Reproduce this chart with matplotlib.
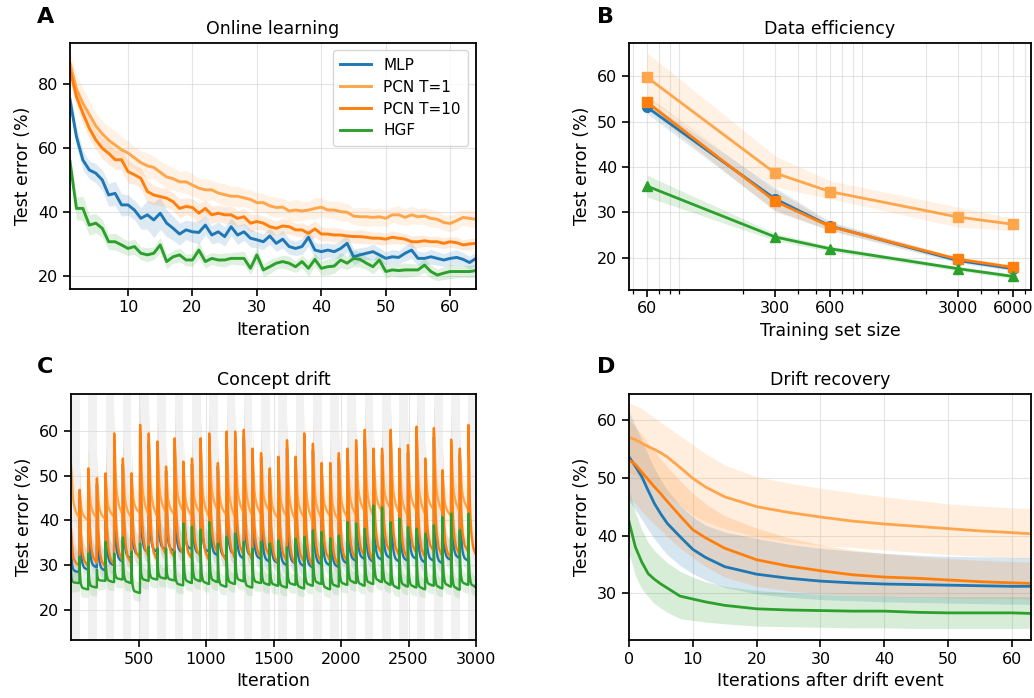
import numpy as np
import matplotlib
matplotlib.use("Agg")
import matplotlib.pyplot as plt
from matplotlib.ticker import FixedLocator, FixedFormatter, NullFormatter

# ---------------- data ----------------
SERIES = ["MLP", "PCN T=1", "PCN T=10", "HGF"]

# Panel A: online learning (iterations 1..64)
A_ITER = list(range(1, 65))
A_MLP = [75.1, 63.6, 56.3, 53.2, 52.2, 50.1, 45.4, 45.9,
         42.3, 42.3, 40.7, 38.1, 39.2, 37.6, 39.7, 36.6,
         35.0, 33.2, 34.5, 33.9, 33.7, 36.0, 32.9, 33.9,
         32.4, 35.5, 32.9, 33.9, 31.9, 31.4, 30.8, 32.6,
         30.3, 31.6, 29.3, 28.7, 29.3, 32.2, 28.2, 27.7,
         28.2, 27.7, 28.7, 30.3, 26.1, 26.7, 27.2, 27.7,
         26.7, 25.6, 26.1, 25.9, 27.2, 28.2, 25.6, 25.6,
         26.1, 25.6, 25.1, 25.6, 25.9, 25.3, 24.3, 25.6]
A_PCN1 = [86.5, 78.5, 74.0, 70.5, 67.0, 64.5, 62.5, 61.0,
          59.5, 58.5, 57.0, 55.5, 54.5, 54.0, 52.5, 51.0,
          50.5, 49.5, 49.5, 48.5, 47.5, 47.0, 47.0, 46.0,
          45.5, 45.0, 45.0, 44.5, 44.0, 43.0, 43.0, 42.0,
          41.5, 41.6, 40.4, 40.7, 40.4, 40.7, 41.2, 41.6,
          40.7, 40.7, 40.2, 40.0, 38.8, 38.6, 38.6, 38.4,
          38.6, 38.1, 39.2, 39.2, 38.4, 39.2, 38.6, 38.8,
          38.1, 37.8, 36.8, 36.5, 37.4, 38.4, 38.1, 37.8]
A_PCN10 = [84.5, 76.1, 70.9, 66.2, 62.6, 60.0, 58.4, 56.4,
           56.4, 52.7, 51.7, 50.6, 46.5, 45.4, 44.9, 44.4,
           43.3, 41.2, 41.8, 41.5, 39.7, 41.2, 39.2, 39.7,
           39.2, 39.2, 38.1, 38.6, 36.6, 37.1, 36.6, 35.5,
           35.0, 35.7, 35.5, 34.5, 34.5, 33.4, 34.8, 33.2,
           33.2, 32.9, 32.9, 32.6, 32.4, 32.4, 32.2, 31.9,
           31.9, 31.6, 32.2, 31.9, 31.6, 30.8, 30.8, 31.1,
           30.8, 30.8, 30.3, 30.8, 30.5, 29.8, 30.1, 30.3]
A_HGF = [55.8, 41.2, 41.2, 36.0, 36.6, 35.0, 30.8, 30.8,
         29.8, 28.7, 29.3, 27.2, 26.7, 27.2, 29.8, 24.6,
         26.1, 26.7, 25.1, 25.1, 28.2, 24.6, 25.6, 25.1,
         25.1, 25.6, 25.6, 25.6, 22.5, 26.7, 22.0, 23.0,
         24.1, 24.6, 24.1, 23.0, 24.6, 22.5, 25.3, 22.5,
         23.0, 23.2, 25.1, 24.1, 25.6, 25.3, 24.1, 23.0,
         25.1, 21.5, 22.0, 21.8, 22.0, 22.0, 22.0, 23.5,
         21.5, 20.4, 21.0, 21.5, 21.5, 21.5, 21.5, 21.8]
A_MLP_SD = [2.5, 3.0, 3.0, 2.8, 3.0, 3.2, 3.5, 3.8,
            3.5, 3.2, 3.0, 3.4, 4.5, 5.5, 5.0, 4.2,
            3.8, 3.4, 3.0, 3.2, 3.6, 3.0, 2.8, 3.2,
            3.0, 2.8, 3.0, 2.6, 2.8, 2.5, 2.4, 2.6,
            2.5, 2.8, 2.4, 2.2, 2.5, 2.8, 2.3, 2.5,
            2.2, 2.4, 2.6, 2.8, 2.5, 2.2, 2.0, 2.4,
            2.2, 2.0, 2.3, 2.1, 2.4, 2.6, 2.2, 2.0,
            2.3, 2.1, 2.0, 2.2, 2.4, 2.1, 2.0, 2.2]
A_PCN1_SD = [4.0, 4.5, 4.8, 4.5, 4.2, 4.0, 4.2, 4.5,
             4.0, 3.8, 3.5, 3.8, 4.0, 3.6, 3.4, 3.8,
             3.5, 3.2, 3.6, 3.4, 3.2, 3.5, 3.0, 3.2,
             3.4, 3.0, 3.2, 2.8, 3.0, 3.2, 2.8, 3.0,
             3.2, 2.8, 3.0, 3.4, 3.0, 2.8, 3.4, 3.0,
             2.6, 2.8, 3.0, 2.8, 2.6, 2.8, 3.0, 2.6,
             2.8, 2.6, 2.4, 2.8, 2.6, 2.8, 2.4, 2.6,
             2.8, 2.6, 2.4, 2.6, 2.8, 2.4, 2.6, 2.6]
A_PCN10_SD = [3.0, 3.2, 3.5, 3.2, 3.0, 3.2, 3.5, 3.0,
              3.2, 3.5, 3.0, 3.2, 3.5, 3.0, 2.8, 3.0,
              2.8, 3.0, 2.6, 2.8, 3.0, 2.6, 2.8, 2.5,
              2.6, 2.8, 2.4, 2.6, 2.8, 2.4, 2.2, 2.4,
              2.2, 2.4, 2.2, 2.0, 2.2, 2.4, 2.6, 2.2,
              2.0, 2.2, 2.0, 1.8, 2.0, 2.2, 2.0, 1.8,
              2.0, 1.8, 2.0, 1.8, 1.6, 1.8, 2.0, 1.8,
              1.6, 1.8, 1.7, 1.6, 1.8, 1.6, 1.7, 1.6]
A_HGF_SD = [3.0, 3.5, 3.8, 3.2, 3.0, 2.8, 2.5, 2.6,
            2.4, 2.2, 2.4, 2.0, 2.2, 2.0, 2.4, 2.2,
            2.0, 2.2, 1.8, 2.0, 2.6, 2.0, 1.8, 2.0,
            2.2, 1.8, 2.0, 2.2, 2.0, 2.4, 2.0, 2.2,
            1.8, 2.0, 2.2, 1.8, 2.0, 2.4, 2.0, 2.2,
            2.6, 2.2, 2.4, 2.0, 2.6, 2.4, 2.0, 2.2,
            2.4, 2.0, 1.8, 2.0, 2.2, 2.0, 1.8, 2.2,
            2.0, 1.8, 2.0, 2.2, 2.0, 1.8, 2.0, 2.0]

# Panel B: data efficiency
B_SIZES = [60, 300, 600, 3000, 6000]
B_MLP = [53.2, 33.0, 27.0, 19.4, 17.6]
B_MLP_LO = [51.8, 30.5, 26.0, 18.9, 17.1]
B_MLP_HI = [54.6, 35.5, 28.0, 19.9, 18.1]
B_PCN1 = [59.8, 38.7, 34.6, 29.0, 27.4]
B_PCN1_LO = [55.0, 35.6, 33.0, 26.8, 26.0]
B_PCN1_HI = [65.2, 42.5, 37.0, 31.2, 28.7]
B_PCN10 = [54.3, 32.5, 26.9, 19.7, 17.9]
B_PCN10_LO = [52.8, 30.2, 26.1, 19.2, 17.4]
B_PCN10_HI = [55.8, 35.0, 27.7, 20.2, 18.4]
B_HGF = [35.8, 24.6, 22.0, 17.6, 15.9]
B_HGF_LO = [33.4, 23.8, 21.4, 17.1, 15.4]
B_HGF_HI = [38.2, 25.4, 22.6, 18.1, 16.4]
B_TICKS = [60, 300, 600, 3000, 6000]

# Panel D: drift recovery (mean and band at sampled iterations after drift)
D_T = [0, 1, 2, 3, 4, 5, 6, 8, 10, 12, 15, 20, 25, 30, 35, 40, 45, 50, 55, 60, 63]
D_PCN1 = [57.0, 56.6, 56.0, 55.4, 54.9, 54.3, 53.6, 51.8, 49.9, 48.4, 46.7,
          45.0, 44.0, 43.2, 42.5, 42.0, 41.6, 41.2, 40.8, 40.5, 40.3]
D_PCN1_HI = [62.9, 62.5, 62.0, 61.2, 60.4, 59.6, 58.8, 57.3, 55.7, 54.2, 52.2,
             50.2, 49.1, 48.2, 47.4, 46.7, 46.1, 45.5, 45.1, 44.8, 44.7]
D_PCN1_LO = [51.0, 50.4, 49.6, 48.9, 48.2, 47.5, 46.8, 45.2, 43.5, 42.4, 41.2,
             39.8, 38.9, 38.3, 37.9, 37.5, 37.1, 36.7, 36.4, 36.1, 36.0]
D_PCN10 = [53.1, 52.3, 51.0, 49.7, 48.4, 47.2, 45.9, 43.4, 41.0, 39.6, 37.8,
           35.8, 34.7, 33.9, 33.2, 32.8, 32.6, 32.3, 32.0, 31.8, 31.7]
D_PCN10_HI = [60.0, 58.8, 57.5, 56.0, 54.6, 53.2, 51.9, 49.5, 47.3, 45.5, 43.4,
              41.3, 39.6, 38.4, 37.5, 36.9, 36.4, 36.0, 35.7, 35.5, 35.4]
D_PCN10_LO = [46.5, 45.5, 44.2, 43.0, 41.9, 40.9, 39.8, 37.8, 36.2, 34.6, 32.8,
              31.2, 30.4, 29.9, 29.6, 29.4, 29.3, 29.2, 29.1, 29.1, 29.0]
D_MLP = [53.6, 52.0, 50.2, 47.8, 45.5, 43.7, 42.1, 39.8, 37.6, 36.2, 34.6,
         33.3, 32.6, 32.1, 31.8, 31.6, 31.5, 31.4, 31.3, 31.2, 31.2]
D_MLP_HI = [61.5, 59.0, 56.5, 54.0, 51.6, 49.6, 47.9, 45.2, 43.2, 41.8, 40.6,
            39.5, 38.5, 37.8, 37.3, 36.9, 36.6, 36.4, 36.3, 36.2, 36.2]
D_MLP_LO = [46.0, 44.5, 42.8, 41.0, 39.4, 38.0, 36.7, 34.8, 33.4, 32.3, 31.0,
            29.9, 29.3, 28.9, 28.7, 28.5, 28.4, 28.3, 28.2, 28.1, 28.1]
D_HGF = [42.4, 38.0, 35.4, 33.4, 32.4, 31.6, 30.9, 29.5, 29.0, 28.5, 27.9,
         27.3, 27.1, 27.0, 26.9, 26.9, 26.7, 26.6, 26.6, 26.6, 26.5]
D_HGF_HI = [47.9, 44.0, 41.0, 38.8, 37.4, 36.3, 35.3, 33.8, 32.8, 32.0, 31.2,
            30.5, 30.1, 29.8, 29.6, 29.5, 29.4, 29.4, 29.4, 29.4, 29.4]
D_HGF_LO = [37.0, 33.0, 30.8, 29.4, 28.2, 27.4, 26.7, 25.6, 25.3, 25.0, 24.7,
            24.3, 24.2, 24.1, 24.0, 24.0, 23.9, 23.9, 23.9, 23.9, 23.9]

# Panel C: concept drift, per drift segment (every 64 iterations): peak right
# after the drift and level reached at the end of the segment
C_DRIFT_EVERY = 64
C_N_ITER = 3000
C_MLP_PEAK = [33.0, 45.0, 50.0, 48.0, 49.5, 57.5, 52.5, 49.0, 59.0, 57.5, 56.0, 51.0,
              56.5, 52.0, 52.5, 56.5, 57.5, 52.0, 58.0, 58.5, 58.5, 55.0, 54.0, 50.5,
              53.0, 56.0, 53.0, 57.5, 55.5, 51.5, 51.5, 54.0, 54.5, 56.0, 58.0, 54.5,
              54.5, 58.5, 54.5, 55.0, 59.0, 52.5, 58.5, 50.0, 56.5, 54.5, 59.5]
C_MLP_END = [28.5, 29.0, 29.5, 28.8, 30.0, 30.8, 31.5, 32.2, 32.8, 33.0, 33.5,
             33.2, 32.8, 33.6, 32.5, 33.0, 32.2, 31.8, 32.4, 31.5, 32.0, 31.4, 30.8,
             30.5, 30.0, 30.4, 29.8, 29.5, 30.2, 30.0, 29.6, 30.4, 31.0, 31.4, 30.8,
             31.2, 31.6, 30.8, 31.0, 31.4, 30.6, 31.0, 30.4, 31.2, 31.6, 31.0]
C_PCN1_PEAK = [52.0, 46.0, 50.5, 48.5, 49.5, 58.0, 52.5, 49.5, 60.0, 58.0, 56.5, 51.0,
               57.0, 52.0, 52.5, 57.0, 58.0, 51.5, 58.5, 58.5, 59.0, 55.0, 54.0, 50.5,
               53.0, 56.5, 53.0, 58.0, 56.0, 51.5, 51.5, 54.0, 55.0, 56.5, 59.0, 55.0,
               55.0, 59.0, 55.0, 55.5, 59.5, 52.5, 59.5, 50.0, 57.0, 55.0, 60.0]
C_PCN1_END = [40.5, 40.0, 40.5, 40.2, 40.8, 41.2, 40.6, 41.6, 41.2, 40.8, 41.8,
              41.2, 42.0, 41.0, 41.6, 40.8, 42.2, 41.2, 40.8, 41.6, 41.0, 41.4, 42.0,
              40.4, 40.8, 40.0, 40.6, 39.8, 40.4, 41.0, 40.0, 40.6, 41.2, 42.0, 41.0,
              42.0, 42.6, 41.6, 41.0, 42.2, 41.4, 42.4, 41.8, 41.0, 42.0, 42.4]
C_PCN10_PEAK = [38.0, 46.8, 51.6, 49.4, 50.5, 59.4, 53.8, 50.5, 61.3, 59.4, 57.6, 52.0,
                58.3, 53.1, 53.8, 58.3, 59.4, 52.8, 59.8, 59.8, 60.2, 56.0, 55.0, 51.6,
                54.2, 57.9, 54.2, 59.4, 57.1, 52.8, 52.8, 55.0, 56.0, 57.9, 60.2, 56.0,
                56.0, 60.2, 56.0, 56.8, 60.9, 53.8, 60.6, 51.2, 58.0, 56.0, 61.3]
C_PCN10_END = [30.0, 29.8, 30.5, 29.6, 30.2, 31.0, 30.4, 31.5, 32.0, 31.2, 32.5,
               31.8, 32.6, 31.5, 32.0, 31.2, 32.8, 31.0, 31.6, 32.4, 31.2, 31.8, 32.2,
               30.5, 31.0, 30.2, 30.8, 29.8, 30.6, 31.2, 30.0, 30.8, 31.4, 32.0, 31.0,
               32.6, 33.0, 32.2, 31.6, 32.8, 31.8, 33.2, 32.0, 31.6, 32.4, 33.0, 32.0]
C_HGF_PEAK = [29.0, 31.9, 32.6, 29.0, 35.2, 32.6, 36.2, 33.0, 34.8, 34.1, 33.7, 33.7,
              33.0, 39.3, 38.6, 37.9, 39.6, 34.8, 36.3, 37.0, 35.2, 33.7, 35.2, 34.8,
              35.5, 34.0, 35.9, 36.3, 37.8, 37.4, 36.0, 36.6, 39.6, 39.3, 38.1, 43.3,
              42.9, 39.6, 40.4, 38.5, 38.1, 37.0, 38.9, 40.7, 41.5, 37.8, 41.5]
C_HGF_END = [26.0, 24.6, 25.0, 26.5, 26.2, 26.8, 26.0, 23.8, 26.5, 26.8, 27.0, 26.6,
             25.5, 26.0, 26.4, 25.8, 26.2, 25.2, 25.8, 26.4, 25.0, 26.0, 25.6, 25.4,
             25.0, 25.6, 24.8, 25.4, 25.8, 24.6, 25.2, 25.6, 26.0, 25.4, 25.8, 26.2,
             25.6, 24.8, 25.2, 25.0, 24.6, 25.4, 24.8, 25.2, 24.5, 25.6, 25.0]

# ---------------- style ----------------
COLORS = {"MLP": "#1f77b4", "PCN T=1": "#ffa64d", "PCN T=10": "#ff7f0e", "HGF": "#2ca02c"}
plt.rcParams.update({
    "font.family": ["DejaVu Sans"],
    "font.size": 12,
    "axes.linewidth": 1.3,
    "axes.titlesize": 12.5,
    "axes.labelsize": 12.5,
    "xtick.labelsize": 11.5,
    "ytick.labelsize": 11.5,
    "xtick.major.size": 5,
    "ytick.major.size": 5,
    "xtick.major.width": 1.2,
    "ytick.major.width": 1.2,
    "xtick.minor.size": 3,
    "xtick.minor.width": 0.9,
    "grid.color": "#d9d9d9",
    "grid.linewidth": 0.8,
    "grid.alpha": 0.7,
})

W, H = 1034, 698
fig = plt.figure(figsize=(W / 100, H / 100), dpi=100)


def box(l, t, r, b):
    return [l / W, 1 - b / H, (r - l) / W, (b - t) / H]


axA = fig.add_axes(box(70, 42.5, 476, 288.5))
axB = fig.add_axes(box(629, 42.5, 1031, 289.5))
axC = fig.add_axes(box(71, 393.5, 476, 640))
axD = fig.add_axes(box(629, 393.5, 1031, 640))
for ax in (axA, axB, axC, axD):
    ax.grid(True)
    ax.set_axisbelow(True)

# ---------------- Panel A ----------------
a_means = {"MLP": A_MLP, "PCN T=1": A_PCN1, "PCN T=10": A_PCN10, "HGF": A_HGF}
a_sds = {"MLP": A_MLP_SD, "PCN T=1": A_PCN1_SD, "PCN T=10": A_PCN10_SD, "HGF": A_HGF_SD}
x = np.array(A_ITER)
for s in SERIES:
    m = np.array(a_means[s]); sd = np.array(a_sds[s])
    axA.fill_between(x, m - sd, m + sd, color=COLORS[s], alpha=0.15, lw=0)
    axA.plot(x, m, color=COLORS[s], lw=2.1, label=s)
axA.set_xlim(1, 64)
axA.set_ylim(16.2, 93)
axA.set_xticks([10, 20, 30, 40, 50, 60])
axA.set_yticks([20, 40, 60, 80])
axA.set_title("Online learning")
axA.set_xlabel("Iteration")
axA.set_ylabel("Test error (%)")
axA.legend(loc="upper right", fontsize=11, handlelength=2.0, borderpad=0.5,
           labelspacing=0.45, framealpha=0.8)

# ---------------- Panel B ----------------
b = {"MLP": (B_MLP, B_MLP_LO, B_MLP_HI, "o"),
     "PCN T=1": (B_PCN1, B_PCN1_LO, B_PCN1_HI, "s"),
     "PCN T=10": (B_PCN10, B_PCN10_LO, B_PCN10_HI, "s"),
     "HGF": (B_HGF, B_HGF_LO, B_HGF_HI, "^")}
for s in SERIES:
    m, lo, hi, mk = b[s]
    axB.fill_between(B_SIZES, lo, hi, color=COLORS[s], alpha=0.15, lw=0)
    axB.plot(B_SIZES, m, color=COLORS[s], lw=2.0, marker=mk, ms=7)
axB.set_xscale("log")
axB.set_xlim(47.7, 7550)
axB.set_ylim(13.0, 67.5)
axB.xaxis.set_major_locator(FixedLocator(B_TICKS))
axB.xaxis.set_major_formatter(FixedFormatter([str(v) for v in B_TICKS]))
axB.xaxis.set_minor_formatter(NullFormatter())
axB.grid(True, which="minor", axis="x")
axB.set_yticks([20, 30, 40, 50, 60])
axB.set_title("Data efficiency")
axB.set_xlabel("Training set size")
axB.set_ylabel("Test error (%)")

# ---------------- Panel C ----------------
d_curves = {"MLP": (D_MLP, D_MLP_LO, D_MLP_HI),
            "PCN T=1": (D_PCN1, D_PCN1_LO, D_PCN1_HI),
            "PCN T=10": (D_PCN10, D_PCN10_LO, D_PCN10_HI),
            "HGF": (D_HGF, D_HGF_LO, D_HGF_HI)}
c_segments = {"MLP": (C_MLP_PEAK, C_MLP_END),
              "PCN T=1": (C_PCN1_PEAK, C_PCN1_END),
              "PCN T=10": (C_PCN10_PEAK, C_PCN10_END),
              "HGF": (C_HGF_PEAK, C_HGF_END)}

n_seg = int(np.ceil(C_N_ITER / C_DRIFT_EVERY))
for j in range(0, n_seg, 2):
    axC.axvspan(j * C_DRIFT_EVERY, (j + 1) * C_DRIFT_EVERY, color="#000000",
                alpha=0.055, lw=0, zorder=0)

t = np.array(D_T)
for s in SERIES:
    dm, dlo, dhi = (np.array(v) for v in d_curves[s])
    shape = (dm - dm[-1]) / (dm[0] - dm[-1])
    up_off = (dhi - dm) * 0.9
    lo_off = (dm - dlo) * 0.7
    peaks, ends = c_segments[s]
    xs, ys, los, his = [], [], [], []
    for k in range(min(len(peaks), len(ends), n_seg)):
        xx = k * C_DRIFT_EVERY + t
        keep = xx <= C_N_ITER
        yy = ends[k] + (peaks[k] - ends[k]) * shape
        xs.append(xx[keep]); ys.append(yy[keep])
        los.append((yy - lo_off)[keep]); his.append((yy + up_off)[keep])
    xs = np.concatenate(xs); ys = np.concatenate(ys)
    los = np.concatenate(los); his = np.concatenate(his)
    axC.fill_between(xs, los, his, color=COLORS[s], alpha=0.13, lw=0)
    axC.plot(xs, ys, color=COLORS[s], lw=1.7)
axC.set_xlim(0, C_N_ITER)
axC.set_ylim(13.3, 68.3)
axC.set_xticks([500, 1000, 1500, 2000, 2500, 3000])
axC.set_yticks([20, 30, 40, 50, 60])
axC.set_title("Concept drift")
axC.set_xlabel("Iteration")
axC.set_ylabel("Test error (%)")

# ---------------- Panel D ----------------
for s in SERIES:
    dm, dlo, dhi = d_curves[s]
    axD.fill_between(D_T, dlo, dhi, color=COLORS[s], alpha=0.18, lw=0)
    axD.plot(D_T, dm, color=COLORS[s], lw=2.0)
axD.set_xlim(0, 63)
axD.set_ylim(21.9, 64.6)
axD.set_xticks([0, 10, 20, 30, 40, 50, 60])
axD.set_yticks([30, 40, 50, 60])
axD.set_title("Drift recovery")
axD.set_xlabel("Iterations after drift event")
axD.set_ylabel("Test error (%)")

# panel letters
for lab, (px, py) in {"A": (37, 23), "B": (597, 23), "C": (37, 373), "D": (597, 373)}.items():
    fig.text(px / W, 1 - py / H, lab, fontsize=16, fontweight="bold",
             ha="left", va="baseline")

fig.savefig("out.png", dpi=100)
